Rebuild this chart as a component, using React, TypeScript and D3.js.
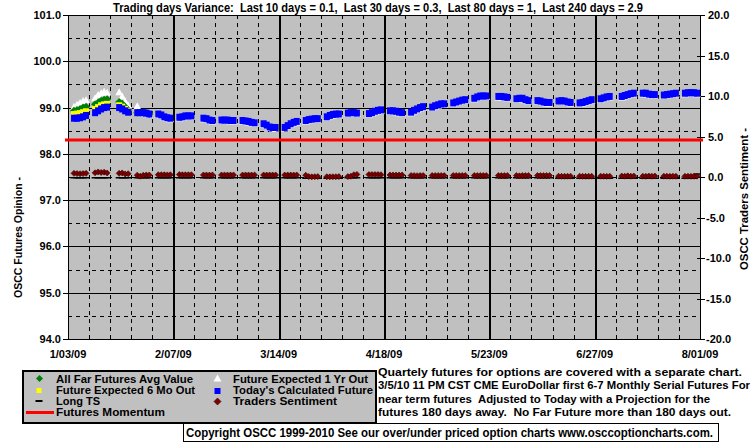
import React from "react";
import * as d3 from "d3";

const W = 755;
const H = 446;
const PL = 68, PR = 700, PT = 15, PB = 339;

const startDate = new Date(2009, 0, 3);
const endDate = new Date(2009, 7, 1);
const firstTradingDay = new Date(2009, 0, 5);
const holidays = ["2009-01-19", "2009-02-16", "2009-04-10", "2009-05-25", "2009-07-03"];
const xTickLabels = ["1/03/09", "2/07/09", "3/14/09", "4/18/09", "5/23/09", "6/27/09", "8/01/09"];
const leftTicks = [94, 95, 96, 97, 98, 99, 100, 101];
const leftHalfTicks = [94.5, 95.5, 96.5, 97.5, 98.5, 99.5, 100.5];
const rightTicks = [-20, -15, -10, -5, 0, 5, 10, 15, 20];

const titleText = "Trading days Variance:  Last 10 days = 0.1,  Last 30 days = 0.3,  Last 80 days = 1,  Last 240 days = 2.9";

// Today's Calculated Future (weekly groups of trading days)
const todaysCalculated = [
  [98.77, 98.77, 98.78, 98.80, 98.83],
  [98.89, 98.93, 98.97, 99.00, 99.01],
  [99.00, 98.97, 98.93, 98.90],
  [98.89, 98.89, 98.89, 98.88, 98.86],
  [98.86, 98.84, 98.80, 98.78, 98.77],
  [98.79, 98.80, 98.82, 98.82, 98.82],
  [98.77, 98.76, 98.73, 98.72],
  [98.73, 98.73, 98.73, 98.72, 98.72],
  [98.72, 98.71, 98.70, 98.68, 98.67],
  [98.65, 98.62, 98.58, 98.57, 98.57],
  [98.57, 98.61, 98.65, 98.68, 98.70],
  [98.72, 98.74, 98.75, 98.76, 98.76],
  [98.80, 98.83, 98.85, 98.86, 98.86],
  [98.88, 98.89, 98.89, 98.88],
  [98.87, 98.89, 98.92, 98.94, 98.95],
  [98.93, 98.93, 98.92, 98.90, 98.89],
  [98.90, 98.94, 98.97, 99.00, 99.02],
  [99.01, 99.04, 99.06, 99.08, 99.08],
  [99.10, 99.12, 99.14, 99.16, 99.17],
  [99.20, 99.23, 99.25, 99.25, 99.25],
  [99.24, 99.24, 99.23, 99.22],
  [99.19, 99.20, 99.20, 99.17, 99.15],
  [99.15, 99.14, 99.12, 99.11, 99.11],
  [99.14, 99.15, 99.14, 99.12, 99.11],
  [99.10, 99.11, 99.13, 99.15, 99.17],
  [99.19, 99.21, 99.23, 99.24],
  [99.24, 99.26, 99.28, 99.30, 99.31],
  [99.31, 99.31, 99.29, 99.28, 99.28],
  [99.27, 99.28, 99.29, 99.30, 99.31],
  [99.31, 99.32, 99.32, 99.32, 99.31],
];

// Future Expected 1 Yr Out
const expected1Yr = [
  [99.02, 99.06, 99.10, 99.14, 99.16],
  [99.20, 99.27, 99.31, 99.34, 99.32],
  [99.33, 99.24, 99.13, 99.04],
  [99.03, 98.87, 98.87, 98.86, 98.84],
  [98.84, 98.82, 98.78, 98.76, 98.75],
  [98.77, 98.78, 98.80, 98.80, 98.80],
  [98.75, 98.74, 98.71, 98.70],
  [98.71, 98.71, 98.71, 98.70, 98.70],
  [98.70, 98.69, 98.68, 98.66, 98.65],
  [98.63, 98.60, 98.56, 98.55, 98.55],
  [98.55, 98.59, 98.63, 98.66, 98.68],
  [98.70, 98.72, 98.73, 98.74, 98.74],
  [98.78, 98.81, 98.83, 98.84, 98.84],
  [98.86, 98.87, 98.87, 98.86],
  [98.85, 98.87, 98.90, 98.92, 98.93],
  [98.91, 98.91, 98.90, 98.88, 98.87],
  [98.88, 98.92, 98.95, 98.98, 99.00],
  [98.99, 99.02, 99.04, 99.06, 99.06],
  [99.08, 99.10, 99.12, 99.14, 99.15],
  [99.18, 99.21, 99.23, 99.23, 99.23],
  [99.22, 99.22, 99.21, 99.20],
  [99.17, 99.18, 99.18, 99.15, 99.13],
  [99.13, 99.12, 99.10, 99.09, 99.09],
  [99.12, 99.13, 99.12, 99.10, 99.09],
  [99.08, 99.09, 99.11, 99.13, 99.15],
  [99.17, 99.19, 99.21, 99.22],
  [99.22, 99.24, 99.26, 99.28, 99.29],
  [99.29, 99.29, 99.27, 99.26, 99.26],
  [99.25, 99.26, 99.27, 99.28, 99.29],
  [99.29, 99.30, 99.30, 99.30, 99.29],
];

// All Far Futures Avg Value (first weeks)
const allFarAvg = [
  [98.93, 98.95, 98.97, 99.00, 99.02],
  [99.07, 99.11, 99.15, 99.17, 99.18],
  [99.12, 99.08, 99.01, 98.95],
  [98.89, 98.89, 98.89, 98.88, 98.86],
];

// Future Expected 6 Mo Out (first weeks)
const expected6Mo = [
  [98.86, 98.87, 98.88, 98.90, 98.92],
  [98.97, 99.01, 99.05, 99.07, 99.08],
  [99.05, 99.02, 98.97, 98.93],
  [98.89, 98.89, 98.89, 98.88, 98.86],
];

// Long TS (left axis)
const longTS = [
  [97.50, 97.50, 97.50, 97.50, 97.50],
  [97.50, 97.50, 97.50, 97.50, 97.50],
  [97.50, 97.50, 97.50, 97.50],
  [97.50, 97.50, 97.50, 97.50, 97.50],
  [97.50, 97.50, 97.50, 97.50, 97.50],
  [97.50, 97.50, 97.50, 97.50, 97.50],
  [97.50, 97.50, 97.50, 97.50],
  [97.50, 97.50, 97.50, 97.50, 97.50],
  [97.50, 97.50, 97.50, 97.50, 97.50],
  [97.50, 97.50, 97.50, 97.50, 97.50],
  [97.50, 97.50, 97.50, 97.50, 97.50],
  [97.49, 97.49, 97.49, 97.49, 97.49],
  [97.49, 97.49, 97.49, 97.49, 97.49],
  [97.50, 97.50, 97.50, 97.50],
  [97.50, 97.50, 97.50, 97.50, 97.50],
  [97.50, 97.50, 97.50, 97.50, 97.50],
  [97.50, 97.50, 97.50, 97.50, 97.50],
  [97.50, 97.50, 97.50, 97.50, 97.50],
  [97.50, 97.50, 97.50, 97.50, 97.50],
  [97.50, 97.50, 97.50, 97.50, 97.50],
  [97.50, 97.50, 97.50, 97.50],
  [97.50, 97.50, 97.50, 97.50, 97.50],
  [97.50, 97.50, 97.50, 97.50, 97.50],
  [97.49, 97.49, 97.49, 97.49, 97.49],
  [97.49, 97.49, 97.49, 97.49, 97.49],
  [97.49, 97.49, 97.49, 97.49],
  [97.49, 97.49, 97.49, 97.49, 97.49],
  [97.49, 97.49, 97.49, 97.49, 97.49],
  [97.49, 97.49, 97.49, 97.49, 97.49],
  [97.49, 97.49, 97.49, 97.49, 97.58],
];

// Traders Sentiment (right axis)
const tradersSentiment = [
  [0.45, 0.42, 0.40, 0.42, 0.45],
  [0.52, 0.62, 0.55, 0.60, 0.50],
  [0.45, 0.50, 0.38, 0.40],
  [0.22, 0.10, 0.22, 0.25, 0.25],
  [0.28, 0.28, 0.28, 0.26, 0.28],
  [0.30, 0.28, 0.28, 0.28, 0.28],
  [0.25, 0.25, 0.24, 0.26],
  [0.25, 0.25, 0.24, 0.25, 0.25],
  [0.24, 0.25, 0.25, 0.24, 0.25],
  [0.25, 0.24, 0.25, 0.24, 0.25],
  [0.24, 0.25, 0.25, 0.24, 0.25],
  [0.22, 0.05, 0.02, 0.04, 0.05],
  [0.03, 0.02, 0.03, 0.04, 0.05],
  [0.05, 0.10, 0.28, 0.32],
  [0.30, 0.30, 0.30, 0.30, 0.28],
  [0.25, 0.25, 0.24, 0.25, 0.25],
  [0.18, 0.18, 0.16, 0.18, 0.18],
  [0.18, 0.17, 0.18, 0.18, 0.17],
  [0.18, 0.18, 0.17, 0.18, 0.18],
  [0.18, 0.17, 0.18, 0.18, 0.17],
  [0.18, 0.17, 0.18, 0.18],
  [0.18, 0.14, 0.18, 0.17, 0.18],
  [0.18, 0.18, 0.17, 0.18, 0.18],
  [0.10, 0.08, 0.08, 0.09, 0.10],
  [0.10, 0.08, 0.08, 0.09, 0.10],
  [0.10, 0.09, 0.08, 0.10],
  [0.12, 0.10, 0.14, 0.10, 0.12],
  [0.10, 0.08, 0.12, 0.10, 0.12],
  [0.10, 0.10, 0.08, 0.10, 0.09],
  [0.08, 0.10, 0.08, 0.09, 0.10],
];

const futuresMomentum = 98.3;

const legendLeft = ["All Far Futures Avg Value", "Future Expected 6 Mo Out", "Long TS", "Futures Momentum"];
const legendRight = ["Future Expected 1 Yr Out", "Today's Calculated Future", "Traders Sentiment"];
const legendLeftW = [137, 139, 44, 109];
const legendRightW = [135, 140, 104];

const noteLines = [
  "Quartely futures for options are covered with a separate chart.",
  "3/5/10 11 PM CST CME EuroDollar first 6-7 Monthly Serial Futures For",
  "near term futures  Adjusted to Today with a Projection for the",
  "futures 180 days away.  No Far Future more than 180 days out.",
];
const noteX = [378, 378, 378, 378];
const noteW = [364, 372, 332, 353];
const copyrightText = "Copyright OSCC 1999-2010 See our over/under priced option charts www.osccoptioncharts.com.";

const FONT = "'Liberation Sans', Arial, sans-serif";

function fmtDay(d: Date) {
  return d3.timeFormat("%Y-%m-%d")(d);
}

export default function App() {
  const x = d3.scaleTime().domain([startDate, endDate]).range([PL, PR]);
  const yL = d3.scaleLinear().domain([94, 101]).range([PB, PT]);
  const yR = d3.scaleLinear().domain([-20, 20]).range([PB, PT]);

  const days = d3.timeDay
    .range(firstTradingDay, endDate)
    .filter((d) => d.getDay() >= 1 && d.getDay() <= 5 && !holidays.includes(fmtDay(d)));

  const pair = (weeks: number[][]) => weeks.flat().map((v, i) => ({ d: days[i], v })).filter((p) => p.d);

  const blue = pair(todaysCalculated);
  const white = pair(expected1Yr);
  const green = pair(allFarAvg);
  const yellow = pair(expected6Mo);
  const lts = pair(longTS);
  const sent = pair(tradersSentiment);

  const majorDates = xTickLabels.map((_, i) => d3.timeDay.offset(startDate, i * 35));
  const minorDates = d3.range(1, 30).filter((i) => i % 5 !== 0).map((i) => d3.timeDay.offset(startDate, i * 7));

  const tri = (cx: number, cy: number) => `M${cx},${cy - 4}L${cx + 3.8},${cy + 3}L${cx - 3.8},${cy + 3}Z`;
  const dia = (cx: number, cy: number, r: number) => `M${cx},${cy - r}L${cx + r},${cy}L${cx},${cy + r}L${cx - r},${cy}Z`;

  return (
    <svg
      width={W}
      height={H}
      viewBox={`0 0 ${W} ${H}`}
      style={{ position: "absolute", left: 0, top: 0, background: "#fff" }}
      fontFamily={FONT}
      fontWeight="bold"
    >
      <rect x={0} y={0} width={W} height={H} fill="#fff" />
      {/* title */}
      <text x={113} y={12} fontSize={12} textLength={530} lengthAdjust="spacingAndGlyphs" style={{ whiteSpace: "pre" }}>
        {titleText}
      </text>

      {/* plot background */}
      <rect x={PL} y={PT} width={PR - PL} height={PB - PT} fill="#C0C0C0" />

      {/* grid */}
      <g shapeRendering="crispEdges">
        {leftHalfTicks.map((t) => (
          <line key={"hh" + t} x1={PL} x2={PR} y1={Math.round(yL(t)) + 0.5} y2={Math.round(yL(t)) + 0.5} stroke="#000" strokeDasharray="4,4" />
        ))}
        {leftTicks.map((t) => (
          <line key={"hl" + t} x1={PL} x2={PR} y1={Math.round(yL(t)) + 0.5} y2={Math.round(yL(t)) + 0.5} stroke="#000" />
        ))}
        {minorDates.map((d, i) => (
          <line key={"vm" + i} x1={Math.round(x(d)) + 0.5} x2={Math.round(x(d)) + 0.5} y1={PT} y2={PB} stroke="#000" strokeDasharray="4,4" />
        ))}
        {majorDates.slice(1, -1).map((d, i) => (
          <line key={"vM" + i} x1={Math.round(x(d)) + 1} x2={Math.round(x(d)) + 1} y1={PT} y2={PB} stroke="#000" strokeWidth={2} />
        ))}
        {/* axes */}
        <line x1={PL + 0.5} x2={PL + 0.5} y1={PT} y2={PB + 1} stroke="#000" />
        <line x1={PR + 0.5} x2={PR + 0.5} y1={PT} y2={PB + 1} stroke="#000" />
        {leftTicks.map((t) => (
          <line key={"lt" + t} x1={PL - 5} x2={PL} y1={Math.round(yL(t)) + 0.5} y2={Math.round(yL(t)) + 0.5} stroke="#000" />
        ))}
        {rightTicks.map((t) => (
          <line key={"rt" + t} x1={PR - 3} x2={PR + 5} y1={Math.round(yR(t)) + 0.5} y2={Math.round(yR(t)) + 0.5} stroke="#000" />
        ))}
        {minorDates.map((d, i) => (
          <line key={"bt" + i} x1={Math.round(x(d)) + 0.5} x2={Math.round(x(d)) + 0.5} y1={PB - 4} y2={PB} stroke="#000" />
        ))}
      </g>

      {/* futures momentum */}
      <line x1={PL - 3} x2={PR + 3} y1={yL(futuresMomentum)} y2={yL(futuresMomentum)} stroke="#FF0000" strokeWidth={3} />

      {/* series */}
      <g>
        {white.map((p, i) => (
          <path key={"w" + i} d={tri(x(p.d), yL(p.v))} fill="#FFFFFF" />
        ))}
        {green.map((p, i) => (
          <path key={"g" + i} d={dia(x(p.d), yL(p.v), 4)} fill="#008000" />
        ))}
        {yellow.map((p, i) => (
          <rect key={"y" + i} x={x(p.d) - 3} y={yL(p.v) - 3} width={6} height={6} fill="#FFFF00" />
        ))}
        {blue.map((p, i) => (
          <rect key={"b" + i} x={x(p.d) - 3} y={yL(p.v) - 3.5} width={6} height={7} fill="#0000FF" />
        ))}
        {lts.map((p, i) => (
          <rect key={"l" + i} x={x(p.d) - 3.5} y={yL(p.v)} width={7} height={1.5} fill="#000" />
        ))}
        {sent.map((p, i) => (
          <path key={"s" + i} d={dia(x(p.d), yR(p.v), 3)} fill="#800000" stroke="#2a0000" strokeWidth={0.6} />
        ))}
      </g>

      {/* tick labels */}
      {leftTicks.map((t) => (
        <text key={"ll" + t} x={61} y={yL(t) + 4} fontSize={11} textAnchor="end">
          {t.toFixed(1)}
        </text>
      ))}
      {rightTicks.map((t) => (
        <text key={"rl" + t} x={t < 0 ? 706 : 708} y={yR(t) + 4} fontSize={11} textAnchor="start">
          {t.toFixed(1)}
        </text>
      ))}
      {majorDates.map((d, i) => (
        <text key={"xl" + i} x={x(d)} y={358} fontSize={11} textAnchor="middle">
          {xTickLabels[i]}
        </text>
      ))}

      {/* axis titles */}
      <text transform="translate(22,298) rotate(-90)" fontSize={11} textLength={121} lengthAdjust="spacingAndGlyphs">
        OSCC Futures Opinion -
      </text>
      <text transform="translate(748,270) rotate(-90)" fontSize={11.5} textLength={142} lengthAdjust="spacingAndGlyphs">
        OSCC Traders Sentiment -
      </text>

      {/* notes */}
      {noteLines.map((s, i) => (
        <text key={"n" + i} x={noteX[i]} y={376 + i * 13.4} fontSize={11.4} textLength={noteW[i]} lengthAdjust="spacingAndGlyphs" style={{ whiteSpace: "pre" }}>
          {s}
        </text>
      ))}

      {/* legend */}
      <rect x={23} y={371} width={353} height={52} fill="#C0C0C0" stroke="#000" strokeWidth={2} />
      <path d={dia(39.5, 378.5, 3.5)} fill="#008000" />
      <rect x={36.5} y={388} width={5} height={5} fill="#FFFF00" />
      <rect x={35.5} y={400} width={7} height={2} fill="#000" />
      <line x1={26} x2={54} y1={412.5} y2={412.5} stroke="#FF0000" strokeWidth={3} />
      <path d={`M217.5,374.5L221.5,381.5L213.5,381.5Z`} fill="#FFFFFF" />
      <rect x={214.5} y={388} width={6} height={6} fill="#0000FF" />
      <path d={dia(217.5, 401.5, 3.5)} fill="#800000" stroke="#2a0000" strokeWidth={0.6} />
      {legendLeft.map((s, i) => (
        <text key={"lg" + i} x={56} y={382.5 + i * 11.3} fontSize={11} textLength={legendLeftW[i]} lengthAdjust="spacingAndGlyphs">
          {s}
        </text>
      ))}
      {legendRight.map((s, i) => (
        <text key={"lr" + i} x={233} y={382.5 + i * 11.3} fontSize={11} textLength={legendRightW[i]} lengthAdjust="spacingAndGlyphs">
          {s}
        </text>
      ))}

      {/* copyright */}
      <rect x={183.5} y={423.5} width={535} height={18} fill="#fff" stroke="#000" strokeWidth={1} />
      <text x={186} y={437} fontSize={12} textLength={527} lengthAdjust="spacingAndGlyphs">
        {copyrightText}
      </text>
    </svg>
  );
}
